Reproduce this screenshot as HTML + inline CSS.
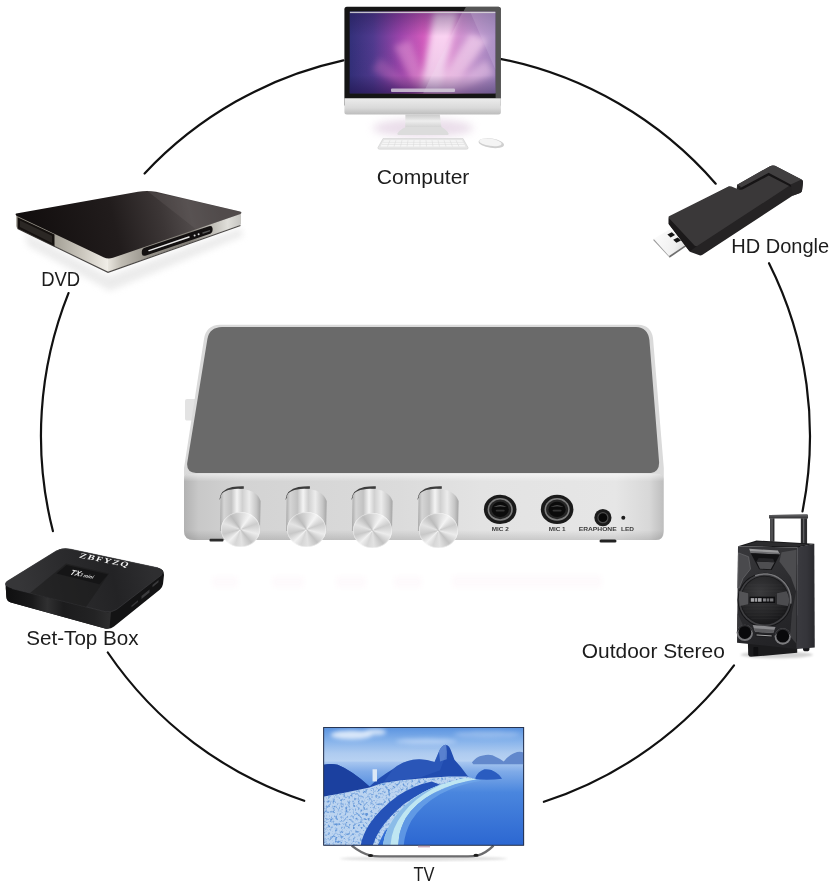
<!DOCTYPE html>
<html lang="en">
<head>
<meta charset="utf-8">
<title>Karaoke Mixer Connections</title>
<style>
html,body{margin:0;padding:0;background:#fff;}
#stage{position:relative;width:831px;height:885px;overflow:hidden;background:#fff;}
#stage svg{position:absolute;left:0;top:0;display:block;will-change:transform;}
.lbl{font-family:"Liberation Sans",sans-serif;font-size:21px;fill:#1c1c1c;}
.tiny{font-family:"Liberation Sans",sans-serif;font-weight:bold;font-size:4.6px;fill:#3a3a3a;}
.cap{position:absolute;border-radius:50%;
 background:conic-gradient(from 200deg,#d6d6d6 0deg,#f0f0f0 25deg,#c8c8c8 55deg,#e4e4e4 90deg,#bcbcbc 125deg,#d8d8d8 160deg,#f4f4f4 195deg,#cccccc 230deg,#ececec 265deg,#c2c2c2 300deg,#e2e2e2 335deg,#d6d6d6 360deg);
 box-shadow:inset 0 0 1px 0.5px rgba(255,255,255,.7);}
</style>
</head>
<body>
<div id="stage">
<svg width="831" height="885" viewBox="0 0 831 885">
<defs>

<linearGradient id="gFront" x1="0" y1="0" x2="1" y2="0">
 <stop offset="0" stop-color="#b2b2b2"/><stop offset="0.03" stop-color="#c8c8c8"/><stop offset="0.12" stop-color="#d3d3d3"/>
 <stop offset="0.45" stop-color="#dbdbdb"/><stop offset="0.62" stop-color="#e3e3e3"/><stop offset="0.9" stop-color="#e6e6e6"/><stop offset="0.97" stop-color="#d8d8d8"/><stop offset="1" stop-color="#bebebe"/>
</linearGradient>
<linearGradient id="gFrontV" x1="0" y1="0" x2="0" y2="1">
 <stop offset="0" stop-color="#fff" stop-opacity=".55"/><stop offset="0.12" stop-color="#fff" stop-opacity="0"/>
 <stop offset="0.85" stop-color="#000" stop-opacity="0"/><stop offset="1" stop-color="#000" stop-opacity=".12"/>
</linearGradient>
<linearGradient id="gKnob" x1="0" y1="0" x2="1" y2="0">
 <stop offset="0" stop-color="#a9a9a9"/><stop offset="0.1" stop-color="#d5d5d5"/><stop offset="0.28" stop-color="#c2c2c2"/>
 <stop offset="0.42" stop-color="#f4f4f4"/><stop offset="0.55" stop-color="#d0d0d0"/><stop offset="0.72" stop-color="#ececec"/>
 <stop offset="0.9" stop-color="#c6c6c6"/><stop offset="1" stop-color="#a4a4a4"/>
</linearGradient>
<filter id="b1" x="-20%" y="-20%" width="140%" height="140%"><feGaussianBlur stdDeviation="1"/></filter>
<filter id="b2" x="-20%" y="-20%" width="140%" height="140%"><feGaussianBlur stdDeviation="2"/></filter>
<filter id="b3" x="-30%" y="-30%" width="160%" height="160%"><feGaussianBlur stdDeviation="3"/></filter>
<filter id="b4" x="-30%" y="-30%" width="160%" height="160%"><feGaussianBlur stdDeviation="4"/></filter>
<filter id="b8" x="-50%" y="-50%" width="200%" height="200%"><feGaussianBlur stdDeviation="8"/></filter>

<linearGradient id="gScr" x1="0" y1="0" x2="1" y2="0">
 <stop offset="0" stop-color="#33307a"/><stop offset="0.16" stop-color="#503a8e"/><stop offset="0.34" stop-color="#9a44aa"/>
 <stop offset="0.5" stop-color="#d05abc"/><stop offset="0.68" stop-color="#dc7ccb"/><stop offset="0.85" stop-color="#b47cc2"/><stop offset="1" stop-color="#8d6bb0"/>
</linearGradient>
<linearGradient id="gScrV" x1="0" y1="0" x2="0" y2="1">
 <stop offset="0" stop-color="#1a1040" stop-opacity=".38"/><stop offset="0.3" stop-color="#1a1040" stop-opacity="0"/>
 <stop offset="0.78" stop-color="#1a1040" stop-opacity=".05"/><stop offset="1" stop-color="#20104a" stop-opacity=".6"/>
</linearGradient>
<linearGradient id="gChin" x1="0" y1="0" x2="0" y2="1">
 <stop offset="0" stop-color="#ececec"/><stop offset="0.6" stop-color="#d9d9d9"/><stop offset="1" stop-color="#bcbcbc"/>
</linearGradient>
<linearGradient id="gNeck" x1="0" y1="0" x2="0" y2="1">
 <stop offset="0" stop-color="#c9c9c9"/><stop offset="0.5" stop-color="#eeeeee"/><stop offset="1" stop-color="#d2d2d2"/>
</linearGradient>
<clipPath id="cScr"><rect x="349.7" y="11.5" width="145.9" height="81.9"/></clipPath>

<linearGradient id="gDvdTop" gradientUnits="userSpaceOnUse" x1="30" y1="240" x2="215" y2="195">
 <stop offset="0" stop-color="#120e0e"/><stop offset="0.45" stop-color="#211c1c"/><stop offset="0.7" stop-color="#3c3636"/>
 <stop offset="0.85" stop-color="#514b4b"/><stop offset="1" stop-color="#474242"/>
</linearGradient>
<linearGradient id="gDvdL" gradientUnits="userSpaceOnUse" x1="16" y1="0" x2="108" y2="0">
 <stop offset="0" stop-color="#8d897f"/><stop offset="0.45" stop-color="#a8a49a"/><stop offset="0.75" stop-color="#cfcbc2"/><stop offset="1" stop-color="#f1eee8"/>
</linearGradient>
<linearGradient id="gDvdR" gradientUnits="userSpaceOnUse" x1="108" y1="0" x2="241" y2="0">
 <stop offset="0" stop-color="#e9e6df"/><stop offset="0.1" stop-color="#c0bcb3"/><stop offset="0.3" stop-color="#96928a"/><stop offset="0.62" stop-color="#827e77"/><stop offset="0.76" stop-color="#b9b6af"/><stop offset="0.9" stop-color="#e0dfda"/><stop offset="1" stop-color="#c6c5c1"/>
</linearGradient>

<linearGradient id="gUsb" gradientUnits="userSpaceOnUse" x1="655" y1="238" x2="688" y2="252">
 <stop offset="0" stop-color="#fbfbfb"/><stop offset="0.6" stop-color="#f0f0f0"/><stop offset="1" stop-color="#cfcfcf"/>
</linearGradient>

<linearGradient id="gStbTop" gradientUnits="userSpaceOnUse" x1="20" y1="590" x2="150" y2="560">
 <stop offset="0" stop-color="#363638"/><stop offset="0.35" stop-color="#2b2b2d"/><stop offset="0.7" stop-color="#232325"/><stop offset="1" stop-color="#2e2e30"/>
</linearGradient>
<linearGradient id="gStbL" gradientUnits="userSpaceOnUse" x1="6" y1="0" x2="110" y2="0">
 <stop offset="0" stop-color="#0f0f10"/><stop offset="0.25" stop-color="#1a1a1b"/><stop offset="0.4" stop-color="#303031"/><stop offset="0.55" stop-color="#1c1c1d"/><stop offset="0.85" stop-color="#232324"/><stop offset="1" stop-color="#2e2e2f"/>
</linearGradient>

<linearGradient id="gSpkSide" gradientUnits="userSpaceOnUse" x1="600" y1="0" x2="746" y2="0">
 <stop offset="0" stop-color="#3a3a3f"/><stop offset="0.55" stop-color="#35353a"/><stop offset="1" stop-color="#28282c"/>
</linearGradient>
<linearGradient id="gSpkFront" gradientUnits="userSpaceOnUse" x1="110" y1="340" x2="600" y2="1190">
 <stop offset="0" stop-color="#38383b"/><stop offset="0.5" stop-color="#2b2b2e"/><stop offset="1" stop-color="#202023"/>
</linearGradient>
<radialGradient id="gWoof" cx="0.4" cy="0.35" r="0.75">
 <stop offset="0" stop-color="#3a3a3c"/><stop offset="0.6" stop-color="#252527"/><stop offset="1" stop-color="#141416"/>
</radialGradient>
<pattern id="pMesh" width="2" height="2" patternUnits="userSpaceOnUse"><rect width="2" height="2" fill="none"/><path d="M0 1H2" stroke="#4a4a4c" stroke-width=".5" opacity=".7"/></pattern>

<linearGradient id="gSky" x1="0" y1="0" x2="0" y2="1">
 <stop offset="0" stop-color="#5690df"/><stop offset="0.35" stop-color="#82b0ea"/><stop offset="0.7" stop-color="#aecbf0"/><stop offset="1" stop-color="#bdd5f3"/>
</linearGradient>
<linearGradient id="gSea" x1="0" y1="0" x2="0" y2="1">
 <stop offset="0" stop-color="#aac8f0"/><stop offset="0.12" stop-color="#7eaae8"/><stop offset="0.36" stop-color="#4a86de"/><stop offset="1" stop-color="#2b66d1"/>
</linearGradient>
<clipPath id="cTv"><rect x="324" y="727.8" width="199.400" height="117.200"/></clipPath>
<filter id="fCity" x="0" y="0" width="100%" height="100%">
 <feTurbulence type="fractalNoise" baseFrequency="0.11" numOctaves="2" seed="7" result="n"/>
 <feColorMatrix in="n" type="matrix" values="0 0 0 0 0.12  0 0 0 0 0.3  0 0 0 0 0.68  3.2 1.6 0 0 -2.35"/>
 <feComposite in2="SourceGraphic" operator="in"/>
</filter>
<!--DEFS-->
</defs>

<!-- connecting ring -->
<g fill="none" stroke="#111" stroke-width="2.2" stroke-linecap="round">
<path d="M144.6 173.5A384.5 384.5 0 0 1 343.4 60.4"/>
<path d="M500.1 58.8A384.5 384.5 0 0 1 715.7 183.7"/>
<path d="M769.0 263.2A384.5 384.5 0 0 1 802.5 511.4"/>
<path d="M734.0 665.4A384.5 384.5 0 0 1 543.9 801.8"/>
<path d="M304.2 800.8A384.5 384.5 0 0 1 107.8 652.5"/>
<path d="M52.9 531.1A384.5 384.5 0 0 1 68.5 293.1"/>
</g>


<!-- ===== central mixer ===== -->
<g id="mixer">
 <!-- faint reflection -->
 <g fill="#fbeef5" opacity=".28" filter="url(#b2)"><rect x="212" y="576" width="26" height="12"/><rect x="272" y="576" width="32" height="12"/><rect x="336" y="576" width="30" height="12"/><rect x="394" y="576" width="28" height="12"/><rect x="452" y="575" width="150" height="13"/></g>
 <!-- side nub -->
 <path d="M187 399 H195 V420.500 H186.500 Q185 420.500 185 418.500 V401 Q185 399 187 399Z" fill="#e3e3e3"/>
 <!-- silver rim / top outline -->
 <path d="M220 324.700 H638 Q651.2 325.2 653 338 L663.8 468 V532 Q663.5 540 656 540 H194 Q184 540 184 531 V468 L204 339 Q206 325 220 324.700Z" fill="#dadada"/>
 <!-- grey top panel -->
 <path d="M222 327 H636 Q647.8 327.6 649.4 340 L659 461 Q660 471.5 651 473 H196 Q186.3 472.5 187.2 463 L207.4 339 Q209.4 327.4 222 327Z" fill="#6a6a6a"/>
 <!-- front face -->
 <path d="M184 479 Q184 473.6 192 473.6 H656 Q663.5 473.6 663.5 479 V531 Q663.5 540 656 540 H194 Q184 540 184 531Z" fill="url(#gFront)"/>
 <path d="M184 479 Q184 473.6 192 473.6 H656 Q663.5 473.6 663.5 479 V531 Q663.5 540 656 540 H194 Q184 540 184 531Z" fill="url(#gFrontV)"/>
 <!-- feet -->
 <rect x="209.500" y="538.800" width="14" height="2.600" rx="1" fill="#2c2c2c"/>
 <rect x="599.500" y="539.500" width="17" height="3" rx="1.500" fill="#222"/>
 <!-- knob bodies -->
 <g id="knobs">
  <g transform="translate(240.3 0)"><path d="M-21 500 Q-20 489.500 -8 487 Q-2 486 3.500 486.200 L3.500 488.800 Q-14 489.200 -19.600 498Z" fill="#3c3c3c"/><path d="M-20.400 531 L-19.700 496.500 Q-18 489.200 -2 488.700 Q16 489 20.300 501 L19.700 531Z" fill="url(#gKnob)"/></g>
  <g transform="translate(306.4 0)"><path d="M-21 500 Q-20 489.500 -8 487 Q-2 486 3.500 486.200 L3.500 488.800 Q-14 489.200 -19.600 498Z" fill="#3c3c3c"/><path d="M-20.400 531 L-19.700 496.500 Q-18 489.200 -2 488.700 Q16 489 20.300 501 L19.700 531Z" fill="url(#gKnob)"/></g>
  <g transform="translate(372.3 0)"><path d="M-21 500 Q-20 489.500 -8 487 Q-2 486 3.500 486.200 L3.500 488.800 Q-14 489.200 -19.600 498Z" fill="#3c3c3c"/><path d="M-20.400 531 L-19.700 496.500 Q-18 489.200 -2 488.700 Q16 489 20.300 501 L19.700 531Z" fill="url(#gKnob)"/></g>
  <g transform="translate(438.3 0)"><path d="M-21 500 Q-20 489.500 -8 487 Q-2 486 3.500 486.200 L3.500 488.800 Q-14 489.200 -19.600 498Z" fill="#3c3c3c"/><path d="M-20.400 531 L-19.700 496.500 Q-18 489.200 -2 488.700 Q16 489 20.300 501 L19.700 531Z" fill="url(#gKnob)"/></g>
 </g>
 <!-- mic jacks -->
 <g transform="translate(500.2 509.400)"><ellipse rx="16.300" ry="14.700" fill="#1a1a1a"/><ellipse rx="12.600" ry="11.300" fill="#7e7e7e"/><ellipse rx="11" ry="9.800" fill="#262626"/><ellipse rx="8.600" ry="7.600" fill="#0b0b0b"/><path d="M-6.500 -2.500 Q0 -6 6.500 -2.500 Q0 -3.800 -6.500 -2.500Z" fill="#787878"/><rect x="-4.500" y="0.300" width="9" height="1.800" rx=".9" fill="#343434"/></g>
 <g transform="translate(557.1 509.400)"><ellipse rx="16.300" ry="14.700" fill="#1a1a1a"/><ellipse rx="12.600" ry="11.300" fill="#7e7e7e"/><ellipse rx="11" ry="9.800" fill="#262626"/><ellipse rx="8.600" ry="7.600" fill="#0b0b0b"/><path d="M-6.500 -2.500 Q0 -6 6.500 -2.500 Q0 -3.800 -6.500 -2.500Z" fill="#606060"/><rect x="-4.500" y="0.300" width="9" height="1.800" rx=".9" fill="#343434"/></g>
 <g transform="translate(602.900 517.700)"><circle r="8.600" fill="#1c1c1c"/><circle r="5.600" fill="#4c4c4c"/><circle r="4.400" fill="#080808"/></g>
 <circle cx="623.300" cy="517.700" r="2" fill="#1e1e1e"/>
 <text class="tiny" x="500.3" y="531.2" text-anchor="middle" textLength="17" lengthAdjust="spacingAndGlyphs">MIC 2</text>
 <text class="tiny" x="557.2" y="531.2" text-anchor="middle" textLength="17" lengthAdjust="spacingAndGlyphs">MIC 1</text>
 <text class="tiny" x="578.7" y="531.2" textLength="38" lengthAdjust="spacingAndGlyphs">ERAPHONE</text>
 <text class="tiny" x="621" y="531.2" textLength="13" lengthAdjust="spacingAndGlyphs">LED</text>
</g>


<!-- ===== computer ===== -->
<g id="computer">
 <ellipse cx="423" cy="128" rx="50" ry="9" fill="#dcc6dc" opacity=".6" filter="url(#b4)"/>
 <rect x="344.4" y="6.7" width="156.5" height="100" rx="2.5" fill="#151515"/>
 <rect x="349.7" y="11.5" width="145.9" height="81.9" fill="url(#gScr)"/>
 <g clip-path="url(#cScr)">
  <g filter="url(#b3)">
   <path d="M420 93 L434 12 L458 12 L440 93Z" fill="#ffe3f8" opacity=".85"/>
   <path d="M432 93 L470 34 L488 40 L450 93Z" fill="#fbd0f0" opacity=".7"/>
   <path d="M440 93 L486 60 L494 74 L456 93Z" fill="#f4c9ee" opacity=".55"/>
   <path d="M418 93 L394 46 L410 40 L430 93Z" fill="#ee9fdc" opacity=".5"/>
   <path d="M412 93 L372 70 L380 58 L424 93Z" fill="#c773c4" opacity=".4"/>
  </g>
  <rect x="349.7" y="11.5" width="145.9" height="81.9" fill="url(#gScrV)"/>
  <path d="M462.7 11.5 H495.6 V93.400 H423Z" fill="#f0e4f6" opacity=".2"/>
  <path d="M470 11.5 H495.6 V70 Z" fill="#d9c8e6" opacity=".22"/>
  <rect x="349.7" y="11.5" width="145.9" height="1.6" fill="#dcdcdc" opacity=".85"/>
  <rect x="391" y="88.6" width="64" height="3.4" rx="1" fill="#d9d2df" opacity=".8"/>
 </g>
 <path d="M466 6.700 H498.400 Q500.900 6.700 500.900 9.200 V98.200 H495.600 V11.500 H463.400Z" fill="#8a8a8a" opacity=".55"/>
  <path d="M344.4 98.2 H500.9 V112 Q500.9 114.5 498.4 114.5 H346.9 Q344.4 114.5 344.4 112Z" fill="url(#gChin)"/>
 <path d="M405.400 114.500 H439.800 L441.500 127.500 H405.200Z" fill="url(#gNeck)"/>
 <path d="M406 127 H441.5 Q447 130 448.5 133.5 Q449 135 447 135 H399 Q397 135 397.5 133.5 Q399 130 406 127Z" fill="#dcdcdc"/>
 <path d="M383 138.6 H463 L468 147.5 Q468.5 149.2 466.5 149.2 H379.5 Q377.5 149.2 378 147.5Z" fill="#e6e6e6" stroke="#cfcfcf" stroke-width=".6"/>
 <path d="M384 140.2 H462 L465.5 146.6 H380.5Z" fill="#f7f7f7"/>
 <g stroke="#d6d6d6" stroke-width=".5"><path d="M383 142.3H463.5M382 144.4H464.5"/><path d="M390 140.2L387.500 146.6M396 140.2L394 146.6M402 140.2L400.500 146.6M408 140.2L407 146.6M414 140.2L413.500 146.6M420 140.2L420 146.6M426 140.2L426.500 146.6M432 140.2L433 146.6M438 140.2L439.500 146.6M444 140.2L446 146.6M450 140.2L452.500 146.6M456 140.2L459 146.6"/></g>
 <ellipse cx="491.3" cy="143.2" rx="12.8" ry="4.7" fill="#cfcfcf" transform="rotate(8 491.3 143.2)"/>
 <ellipse cx="490.4" cy="142.3" rx="11.4" ry="3.6" fill="#f4f4f4" transform="rotate(8 490.4 142.3)"/>
</g>


<!-- ===== DVD player ===== -->
<g id="dvd">
 <path d="M24 232 L108 276 L241 228 L243 236 L110 291 L28 246Z" fill="#dcdcdc" opacity=".55" filter="url(#b3)"/>
 <!-- sides -->
 <path d="M16.3 214 L108 257.5 V272 L18 228.5 Q16.3 227.6 16.3 226Z" fill="url(#gDvdL)"/>
 <path d="M108 257.5 L241 213.5 V223.8 Q241 225 239.5 225.5 L108 272Z" fill="url(#gDvdR)"/>
 <path d="M17.6 217.2 L54.5 234.6 V246.6 L17.6 228.4Z" fill="#15110f"/>
 <path d="M20 220.6 L52 235.8 V243 L20 227Z" fill="#2b2724"/>
 <!-- top -->
 <path d="M16.3 213.6 L138 191.8 Q147 190.2 156 191.8 L240 211.6 Q242.6 212.6 240.4 214 L113 257.8 Q108 259.4 103.5 257.2 L17 216 Q14.6 214.4 16.3 213.6Z" fill="url(#gDvdTop)"/>
 <path d="M147 190.8 L240 211.6 Q242.6 212.6 240.4 214 L196 229.2Z" fill="#6a6464" opacity=".28"/>
 <path d="M17.500 228.600 L108 272.300 L240.500 225.600" fill="none" stroke="#2c2826" stroke-width="1.100" opacity=".85"/>
 <!-- display pill -->
 <path d="M145.5 247.6 L209 226.2 Q212.4 225.4 212.6 228.4 L212.6 230 Q212.4 233 209.4 234 L146 255.6 Q142 256.6 141.8 253.4 V251.4 Q142 248.6 145.5 247.6Z" fill="#131010"/>
 <path d="M149 250.6 L189 237" stroke="#e8e8e8" stroke-width="1.5" stroke-linecap="round" fill="none"/>
 <circle cx="194.6" cy="235.6" r="1" fill="#ddd"/><circle cx="198.6" cy="234.2" r="1" fill="#ddd"/>
 <path d="M203 233 L209.500 230.800" stroke="#555" stroke-width="1.4" stroke-linecap="round"/>
</g>


<!-- ===== HD dongle ===== -->
<g id="dongle">
 <!-- usb plug -->
 <path d="M653.6 238.8 L669.5 229.5 L690 242 L669 256 Z" fill="url(#gUsb)"/>
 <path d="M653.6 238.8 L669 256 L669.600 257.600 L653.600 240.400Z" fill="#9a9a9a"/>
 <path d="M669 256 L690 242 L690 243.800 L669.600 257.800Z" fill="#6e6e6e"/>
 <path d="M667.400 234.400 L671.800 232.200 L675 235 L670.600 237.400Z" fill="#151515"/>
 <path d="M673.200 239.800 L677.800 237.600 L681 240.400 L676.400 242.800Z" fill="#151515"/>
 <!-- body silhouette (side faces) -->
 <path d="M668.7 217.8 L729 186.400 L736.600 189.200 L737.2 184.800 L770 166.200 Q772.500 164.800 775 165.800 L801.500 179.600 Q803.200 180.600 803 182.400 L802 190.800 Q801.800 192.400 800 193 L792.500 195.800 L702.500 254.800 Q701 255.600 699.500 255.300 L690.500 252 Q689.500 251.600 688.800 250.600 L668.7 224Z" fill="#252324"/>
 <path d="M668.7 218 L668.7 224 L689.800 251.600 L697 246 Z" fill="#1b191a"/>
 <!-- top face -->
 <path d="M668.7 217.8 Q668 216.800 669.500 216 L728.500 186.600 Q730 186 731.500 186.600 L738.600 189.400 L768.500 174 L790.800 184.800 L697.500 245.800 Q696 246.600 694.500 245.400Z" fill="#3a3839"/>
 <!-- hook -->
 <path d="M790.8 184.600 L801.500 179.600 Q803.200 180.600 803 182.400 L802 190.800 Q801.800 192.400 800 193 L792.500 195.800Z" fill="#272526"/>
 <path d="M741.5 187.200 L768.700 172.800 L790.800 184.600 L791.200 187 L768.700 175.600 L742.500 189.600 Q740 190 738.800 189.200Z" fill="#161415"/>
 <path d="M737.2 184.800 L770 166.200 Q772.500 164.800 775 165.800 L801.500 179.600 L790.800 184.600 L768.700 172.800 L741.500 187.200 L737.600 188.600Z" fill="#413f40"/>
 <path d="M737.2 184.800 L737.600 189 L741.500 187.200Z" fill="#222021"/>
</g>


<!-- ===== set-top box ===== -->
<g id="stb">
 <!-- silhouette incl. sides -->
 <path d="M5.6 586 Q4.6 583 7.5 581 L56 551 Q62 547.600 70 549 L158 567.800 Q164.600 569.600 164 575 L163 584 Q162.600 587 160 589.400 L114 626.500 Q110 629.600 105 628.400 L11 602.600 Q6.600 601.400 6.400 597Z" fill="#131314"/>
 <!-- left-front face -->
 <path d="M5.8 587.500 L106 612 Q109.500 612.600 111 611.600 L109.500 628 Q107 629 105 628.400 L11 602.600 Q6.600 601.400 6.400 597Z" fill="url(#gStbL)"/>
 <!-- top face -->
 <path d="M7 586.200 Q3.800 583.200 7.500 581 L56 551 Q62 547.600 70 549 L158 567.800 Q165.500 570 162 574.600 L116.500 609.500 Q111.500 613 105 611.600 L12 588.600 Q8.600 587.600 7 586.200Z" fill="url(#gStbTop)"/>
 <path d="M7 586.200 Q3.800 583.200 7.500 581 L56 551 Q62 547.600 70 549 L158 567.800" fill="none" stroke="#4a4a4c" stroke-width=".7" opacity=".7"/>
 <path d="M12 588.600 L105 611.600 Q111.500 613 116.500 609.500 L162 574.600" fill="none" stroke="#3e3e40" stroke-width=".8" opacity=".8"/>
 <!-- glossy centre strip -->
 <path d="M66 563.500 L109 573.600 L86 607 L30 593Z" fill="#19191a" opacity=".55"/>
 <path d="M66.500 565 L108 574.600 L99.500 584.200 L56.500 573.600Z" fill="#151516"/>
 <!-- ports on right face -->
 <path d="M152.500 585 L158.500 580 L158.500 582.200 L152.500 587.200Z" fill="#3a3a3c"/>
 <path d="M141.500 596 L149.500 589.500 L149.500 592.500 L141.500 599Z" fill="#3c3c3e"/>
 <path d="M131.500 605.500 L138 600.200 L138 602 L131.500 607.300Z" fill="#38383a"/>
 <!-- brand -->
 <text transform="translate(78.6 557.400) rotate(11.300) skewX(-18)" font-family="'Liberation Serif',serif" font-weight="bold" font-size="7.4" fill="#f2f2f2" textLength="51" lengthAdjust="spacingAndGlyphs" letter-spacing="1">ZBFYZQ</text>
 <text transform="translate(69.600 574.400) rotate(11.300) skewX(-18)" font-family="'Liberation Sans',sans-serif" font-weight="bold" font-style="italic" fill="#efefef"><tspan font-size="7.6">TX</tspan><tspan font-size="4.8" dy="-0.2" fill="#cfcfcf">3 mini</tspan></text>
</g>


<!-- ===== outdoor stereo ===== -->
<g id="speaker" transform="translate(725 505) scale(0.120337)">
 <!-- floor shadow -->
 <ellipse cx="430" cy="1245" rx="300" ry="28" fill="#9a9a9a" opacity=".45" filter="url(#b8)"/>
 <!-- handle -->
 <path d="M373 84 Q366 84 366 92 V112 H690 V88 Q690 78 680 78 Z" fill="#3d3d3f"/>
 <path d="M373 84 Q366 84 366 92 V96 H690 V88 Q690 78 680 78 Z" fill="#5a5a5c"/>
 <rect x="375" y="110" width="36" height="195" fill="#2e2e30"/><rect x="386" y="110" width="9" height="195" fill="#6c6c6e"/>
 <rect x="630" y="110" width="52" height="215" fill="#2c2c2e"/><rect x="648" y="110" width="11" height="215" fill="#5e5e60"/>
 <!-- base + wheels -->
 <path d="M190 1140 L600 1190 L600 1228 L215 1262 Q195 1262 193 1240Z" fill="#1b1b1d"/>
 <rect x="236" y="1180" width="40" height="74" rx="8" fill="#0f0f11"/>
 <rect x="648" y="1150" width="54" height="66" rx="22" fill="#17171a"/>
 <!-- right face -->
 <path d="M600 352 L742 322 L746 1184 L598 1196Z" fill="url(#gSpkSide)"/>
 <!-- top face -->
 <path d="M108 342 L262 295 L742 322 L600 354Z" fill="#171719"/>
 <path d="M150 336 L270 304 L700 326 L590 346Z" fill="#2c2c2e"/>
 <!-- front face -->
 <path d="M108 342 L600 354 L598 1196 L100 1144Z" fill="url(#gSpkFront)"/>
 <!-- left angular panel -->
 <path d="M112 398 L196 430 L212 532 L150 610 L118 690 L104 690Z" fill="#4a4a4d" stroke="#707073" stroke-width="5"/>
 <!-- right panels -->
 <path d="M470 392 L594 372 L592 720 L548 600 L490 520 L452 470Z" fill="#4c4c4f"/>
 <path d="M594 700 L592 1150 L540 1090 L556 900Z" fill="#3a3a3d"/>
 <path d="M104 900 L150 1000 L112 1060 L102 1060Z" fill="#38383b"/>
 <!-- trim bar -->
 <path d="M200 364 L440 378 L456 410 L214 396Z" fill="#9a9a9c"/>
 <path d="M205 382 L448 396 L456 410 L214 396Z" fill="#6d6d70"/>
 <!-- horn -->
 <path d="M214 400 L456 412 L388 540 L284 534Z" fill="#121214"/>
 <path d="M262 470 L412 476 L380 534 L290 530Z" fill="#4e4e51"/>
 <path d="M280 440 L400 446 L412 476 L262 470Z" fill="#252528"/>
 <!-- woofer -->
 <circle cx="330" cy="790" r="226" fill="#141416"/>
 <circle cx="330" cy="790" r="218" fill="#3e3e41"/>
 <path d="M250 588 A218 218 0 0 1 546 820" fill="none" stroke="#77777a" stroke-width="12"/>
 <circle cx="330" cy="790" r="203" fill="#19191b"/>
 <circle cx="330" cy="790" r="196" fill="url(#gWoof)"/>
 <g stroke="#5a5a5d" stroke-width="3" opacity=".35"><path d="M180 664H480M160 690H500M146 716H514M140 742H196M414 742H522M140 838H522M150 864H510M166 890H494M188 916H472M218 942H442"/></g>
 <path d="M118 714 L192 734 L192 824 L124 840 Q112 780 118 714Z" fill="#545457"/>
 <path d="M432 734 L512 716 Q548 780 522 840 L432 824Z" fill="#4c4c4f"/>
 <rect x="204" y="762" width="212" height="52" fill="#0d0d0f"/>
 <g fill="#a4a4a7"><rect x="214" y="774" width="30" height="30"/><rect x="250" y="774" width="18" height="30"/><rect x="274" y="774" width="30" height="30"/><rect x="316" y="776" width="24" height="26" opacity=".8"/><rect x="346" y="776" width="22" height="26" opacity=".65"/><rect x="374" y="776" width="28" height="26" opacity=".7"/></g>
 <!-- lower trim -->
 <path d="M230 998 L420 1013 L400 1064 L250 1054Z" fill="#8a8a8d"/>
 <path d="M240 1024 L410 1036 L400 1064 L250 1054Z" fill="#5c5c5f"/>
 <path d="M254 1068 L396 1078 L394 1100 L256 1092Z" fill="#1a1a1c"/>
 <path d="M262 1080 L388 1088" stroke="#e0e0e2" stroke-width="6"/>
 <!-- ports -->
 <circle cx="165" cy="1063" r="68" fill="#77777a"/><path d="M97 1063 A68 68 0 0 1 233 1063 A72 60 0 0 0 97 1063Z" fill="#2c2c2f"/><circle cx="165" cy="1060" r="53" fill="#09090b"/>
 <circle cx="480" cy="1093" r="68" fill="#7c7c7f"/><path d="M412 1093 A68 68 0 0 1 548 1093 A72 60 0 0 0 412 1093Z" fill="#2c2c2f"/><circle cx="480" cy="1090" r="53" fill="#09090b"/>
</g>


<!-- ===== TV ===== -->
<g id="tv">
 <ellipse cx="423.500" cy="858.600" rx="84" ry="2.400" fill="#d8d8d8" opacity=".8" filter="url(#b1)"/>
 <path d="M351.700 845.600 Q361 853 370 855.400 Q374 856.400 380 856.400 H468 Q474 856.400 478 855.400 Q486 853 493.500 845.600" fill="none" stroke="#6c6c6e" stroke-width="2.400"/>
 <ellipse cx="370.500" cy="855.600" rx="2.600" ry="1.500" fill="#1c1c1c"/><ellipse cx="476" cy="855.200" rx="2.600" ry="1.500" fill="#1c1c1c"/>
 <rect x="323.400" y="727.100" width="200.600" height="118.400" fill="#1b2b52"/>
 <g clip-path="url(#cTv)">
 <g transform="translate(310 715) scale(0.27678)">
  <rect x="40" y="40" width="740" height="140" fill="url(#gSky)"/>
  <g filter="url(#b8)" fill="#e6f0fc"><ellipse cx="150" cy="72" rx="75" ry="16" opacity=".9"/><ellipse cx="235" cy="62" rx="40" ry="12" opacity=".8"/><ellipse cx="420" cy="95" rx="110" ry="10" opacity=".45"/><ellipse cx="640" cy="70" rx="120" ry="12" opacity=".3"/></g>
  <rect x="40" y="168" width="740" height="310" fill="url(#gSea)"/>
  <!-- far islands -->
  <path d="M585 172 Q600 150 625 146 Q655 140 672 152 Q690 160 700 168 Q720 142 748 134 Q765 130 780 140 V178 H590Z" fill="#6288cc"/>
  <path d="M598 226 Q606 205 630 196 Q655 194 672 208 Q688 218 694 230 Q650 236 598 232Z" fill="#2a5cc0"/>
  <!-- hills -->
  <path d="M40 182 Q70 174 100 180 Q150 200 215 258 Q250 225 300 195 Q335 168 372 162 Q410 156 450 170 L466 132 Q478 106 492 108 Q504 110 510 130 L522 162 Q545 186 566 216 L580 232 L470 262 L300 300 L40 320Z" fill="#214cb0"/>
  <path d="M40 182 Q70 174 100 180 Q150 200 215 258 L218 270 L130 290 L40 300Z" fill="#1b409f"/>
  <path d="M300 196 Q335 168 372 162 Q410 156 450 170 L466 132 Q478 106 492 108 L488 150 L470 200 L400 225 L330 235 L268 240Z" fill="#3563c4" opacity=".45"/>
  <path d="M466 132 Q478 106 492 108 Q496 130 494 160 L470 168Z" fill="#7fa6e2" opacity=".55"/>
  <rect x="226" y="196" width="16" height="44" fill="#dce8f6"/>
  <!-- city -->
  <path d="M40 296 L120 282 L215 262 L262 246 L330 236 L420 228 L500 222 L566 222 L600 232 L520 250 L430 290 L340 350 L270 420 L240 480 L40 480Z" fill="#bcd4f0"/>
  <path d="M40 296 L120 282 L215 262 L262 246 L330 236 L420 228 L500 222 L566 222 L600 232 L520 250 L430 290 L340 350 L270 420 L240 480 L40 480Z" fill="#000" filter="url(#fCity)"/>
  <!-- road -->
  <path d="M470 252 Q400 278 340 322 Q280 372 250 420 Q232 450 224 480 H182 Q186 440 214 396 Q250 340 320 290 Q380 252 440 240Z" fill="#2552b8"/>
  <!-- beach -->
  <path d="M606 232 Q520 244 450 280 Q380 318 346 372 Q326 410 322 440 L318 480 H262 Q266 440 282 408 Q310 350 370 304 Q440 254 560 228Z" fill="#bfe6f2"/>
  <path d="M262 480 Q266 440 282 408 Q310 350 370 304 Q420 268 500 240 Q440 262 384 306 Q330 350 304 410 Q292 440 290 480Z" fill="#8bbce8"/>
  <path d="M606 232 Q520 244 450 280 Q380 318 346 372 Q326 410 322 440 L318 480 H338 Q340 430 366 382 Q400 326 470 286 Q540 250 620 238Z" fill="#6fa6ea" opacity=".7"/>
 </g>
 </g>
 <rect x="323.700" y="727.500" width="200" height="117.700" fill="none" stroke="#26324e" stroke-width=".9"/>
 <rect x="418" y="845.800" width="12" height="1.600" fill="#c9a9b9"/>
</g>


<!-- labels -->
<text class="lbl" x="376.8" y="183.6" textLength="92.6" lengthAdjust="spacingAndGlyphs">Computer</text>
<text class="lbl" x="41.2" y="285.6" textLength="39" lengthAdjust="spacingAndGlyphs">DVD</text>
<text class="lbl" x="731.2" y="253.4" textLength="98" lengthAdjust="spacingAndGlyphs">HD Dongle</text>
<text class="lbl" x="26.2" y="645.3" textLength="112.5" lengthAdjust="spacingAndGlyphs">Set-Top Box</text>
<text class="lbl" x="581.8" y="658.2" textLength="143" lengthAdjust="spacingAndGlyphs">Outdoor Stereo</text>
<text class="lbl" x="413.4" y="881" textLength="21" lengthAdjust="spacingAndGlyphs">TV</text>
</svg>

<div class="cap" style="left:220.5px;top:511.8px;width:39.6px;height:35px"></div>
<div class="cap" style="left:286.6px;top:512.2px;width:39.6px;height:35px"></div>
<div class="cap" style="left:352.5px;top:512.6px;width:39.6px;height:35px"></div>
<div class="cap" style="left:418.5px;top:513px;width:39.6px;height:35px"></div>

</div>
</body>
</html>
